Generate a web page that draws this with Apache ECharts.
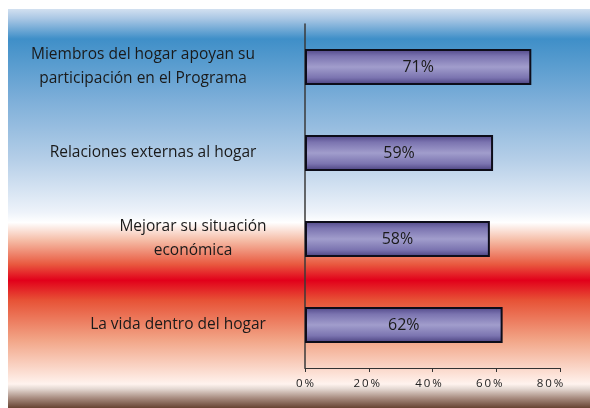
<!DOCTYPE html>
<html>
<head>
<meta charset="utf-8">
<script src="https://cdn.jsdelivr.net/npm/echarts@6/dist/echarts.min.js"></script>
<style>
  html, body { margin: 0; padding: 0; background: #fff; }
  #chart { width: 590px; height: 408px; }
</style>
</head>
<body>
<div id="chart"></div>
<script>
// datos del gráfico
const categories = [
  'Miembros del hogar apoyan su\nparticipación en el Programa',
  'Relaciones externas al hogar',
  'Mejorar su situación\neconómica',
  'La vida dentro del hogar'
]
const values = [71, 59, 58, 62]
const xTicks = [0, 20, 40, 60, 80]

// ancho del bloque de cada etiqueta (para centrar las líneas)
const labelWidths = [236, 216, 152, 182]
// margen derecho extra de cada etiqueta
const labelPad = [8, 8, 0, 0]
// desplazamiento a la izquierda de las etiquetas del eje X
const tickShift = [0, 2, 4, 7, 10]

const chart = echarts.init(document.getElementById('chart'))

const rich = {}
labelWidths.forEach((w, i) => {
  rich['l' + i] = {
    width: w,
    align: 'center',
    fontSize: 15.5,
    lineHeight: 24,
    color: '#1a1a1a',
    fontFamily: 'Open Sans',
    padding: [0, labelPad[i], 0, 0]
  }
})
const tickRich = {}
tickShift.forEach((d, i) => {
  tickRich['t' + i] = {
    fontSize: 11.5,
    color: '#222',
    fontFamily: 'Open Sans',
    padding: [0, d * 2, 0, 0]
  }
})

const option = {
  animation: false,
  graphic: [
    {
      type: 'rect',
      z: -10,
      silent: true,
      shape: { x: 8, y: 9, width: 582, height: 399 },
      style: {
        fill: new echarts.graphic.LinearGradient(0, 0, 0, 1, [
          { offset: 0, color: '#d2e0f0' },
          { offset: 0.025, color: '#a8c6e4' },
          { offset: 0.075, color: '#3f8fc8' },
          { offset: 0.23, color: '#7eafd9' },
          { offset: 0.38, color: '#b6cfe8' },
          { offset: 0.51, color: '#eef3fa' },
          { offset: 0.535, color: '#ffffff' },
          { offset: 0.58, color: '#f5bca6' },
          { offset: 0.64, color: '#e9593f' },
          { offset: 0.68, color: '#e2001a' },
          { offset: 0.73, color: '#e75236' },
          { offset: 0.83, color: '#f2a587' },
          { offset: 0.94, color: '#fff3ee' },
          { offset: 0.952, color: '#e4d8d2' },
          { offset: 0.975, color: '#a88c80' },
          { offset: 1, color: '#674332' }
        ])
      }
    }
  ],
  grid: {
    left: 305,
    right: 30,
    top: 24,
    bottom: 40,
    containLabel: false
  },
  xAxis: {
    type: 'value',
    min: 0,
    max: 80,
    interval: 20,
    axisLine: { show: true, lineStyle: { color: '#333', width: 1 } },
    axisTick: { show: true, length: 4, lineStyle: { color: '#333' } },
    splitLine: { show: false },
    axisLabel: {
      margin: 10,
      formatter: v => {
        const i = xTicks.indexOf(v)
        if (i < 0) return ''
        return '{t' + i + '|' + String(v).split('').join('\u2009') + '\u2009%}'
      },
      rich: tickRich
    }
  },
  yAxis: {
    type: 'category',
    data: categories,
    inverse: true,
    axisLine: { show: true, lineStyle: { color: '#3a3a3a', width: 1.5 } },
    axisTick: { show: false },
    axisLabel: {
      margin: 36,
      formatter: (v, i) => v.split('\n').map(s => '{l' + i + '|' + s + '}').join('\n'),
      rich: rich
    }
  },
  series: [
    {
      type: 'bar',
      data: values,
      barWidth: 36,
      itemStyle: {
        color: new echarts.graphic.LinearGradient(0, 0, 0, 1, [
          { offset: 0, color: '#4e4586' },
          { offset: 0.2, color: '#7b74b0' },
          { offset: 0.5, color: '#a19dcc' },
          { offset: 0.8, color: '#7b74b0' },
          { offset: 1, color: '#463d7c' }
        ]),
        borderColor: '#0d0d1a',
        borderWidth: 2
      },
      label: {
        show: true,
        position: 'inside',
        formatter: '{c}%',
        color: '#1a1a1a',
        fontSize: 16,
        fontFamily: 'Open Sans'
      }
    }
  ]
}

chart.setOption(option)
</script>
</body>
</html>
